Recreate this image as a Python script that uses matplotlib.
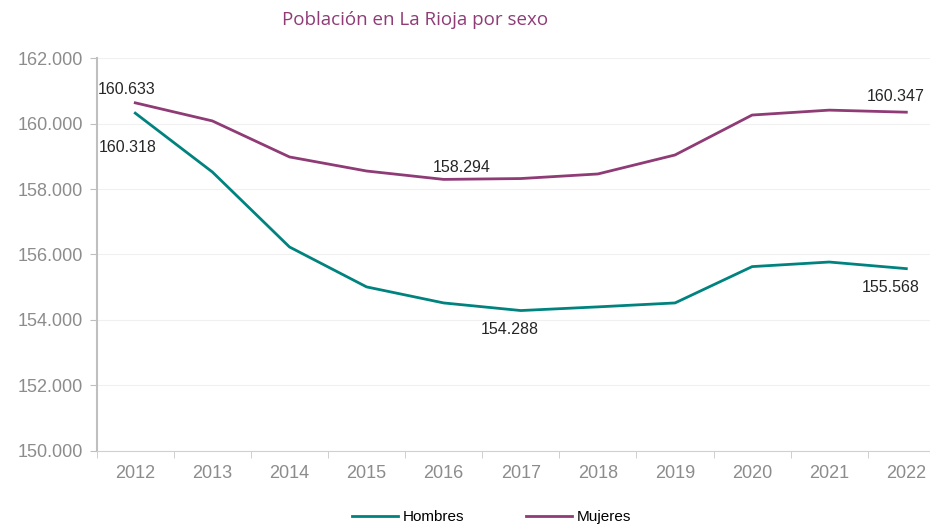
import matplotlib.pyplot as plt
from matplotlib.ticker import FuncFormatter

years = ["2012", "2013", "2014", "2015", "2016", "2017", "2018", "2019", "2020", "2021", "2022"]
hombres = [160318, 158520, 156230, 155010, 154520, 154288, 154400, 154520, 155630, 155770, 155568]
mujeres = [160633, 160080, 158980, 158550, 158294, 158320, 158460, 159040, 160260, 160410, 160347]

teal = "#00837F"
purple = "#8E3B76"
grey = "#8C8C8C"
font = "Liberation Sans"

fig = plt.figure(figsize=(9.3, 5.28), dpi=100)
ax = fig.add_axes([0.104, 0.146, 0.912, 0.744])

x = list(range(len(years)))
ax.plot(x, hombres, color=teal, lw=2, label="Hombres")
ax.plot(x, mujeres, color=purple, lw=2, label="Mujeres")

ax.set_xlim(-0.5, len(years) - 0.5)
ax.set_ylim(150000, 162000)
ax.set_yticks(range(150000, 162001, 2000))
ax.yaxis.set_major_formatter(FuncFormatter(lambda v, p: f"{int(v):,}".replace(",", ".")))
ax.set_xticks(x)
ax.set_xticklabels(years)
ax.set_xticks([i - 0.5 for i in range(len(years) + 1)], minor=True)
ax.tick_params(axis="x", which="major", length=0, pad=10, labelsize=13, labelcolor=grey)
ax.tick_params(axis="x", which="minor", length=5, color="#C8C8C8")
ax.tick_params(axis="y", length=5, color="#BFBFBF", labelsize=13, labelcolor=grey, pad=5)
for t in ax.get_xticklabels() + ax.get_yticklabels():
    t.set_family(font)
ax.grid(axis="y", color="#F0F0F0", lw=0.8)
ax.set_axisbelow(True)
for s in ["top", "right"]:
    ax.spines[s].set_visible(False)
ax.spines["left"].set_color("#BFBFBF")
ax.spines["bottom"].set_color("#D0D0D0")
ax.spines["left"].set_linewidth(1.5)

def fmt(v):
    return f"{v:,}".replace(",", ".")

lab = dict(fontsize=11.5, color="#262626", ha="center", va="center", family=font,
           textcoords="offset pixels")
ax.annotate(fmt(mujeres[0]), (0, mujeres[0]), xytext=(-9, 13), **lab)
ax.annotate(fmt(hombres[0]), (0, hombres[0]), xytext=(-8, -34), **lab)
ax.annotate(fmt(mujeres[4]), (4, mujeres[4]), xytext=(18, 12), **lab)
ax.annotate(fmt(hombres[5]), (5, hombres[5]), xytext=(-11, -19), **lab)
ax.annotate(fmt(mujeres[10]), (10, mujeres[10]), xytext=(-11, 16), **lab)
ax.annotate(fmt(hombres[10]), (10, hombres[10]), xytext=(-16, -19), **lab)

fig.text(0.303, 0.962, "Población en La Rioja por sexo", fontsize=13.5, color=purple,
         family="Open Sans", va="center", ha="left")

fig.legend(loc="center", bbox_to_anchor=(0.5285, 0.02), ncol=2, frameon=False,
           prop={"family": font, "size": 11}, handlelength=3.05, columnspacing=4.0,
           handletextpad=0.3, borderpad=0.1)

fig.savefig("out.png", dpi=100)
